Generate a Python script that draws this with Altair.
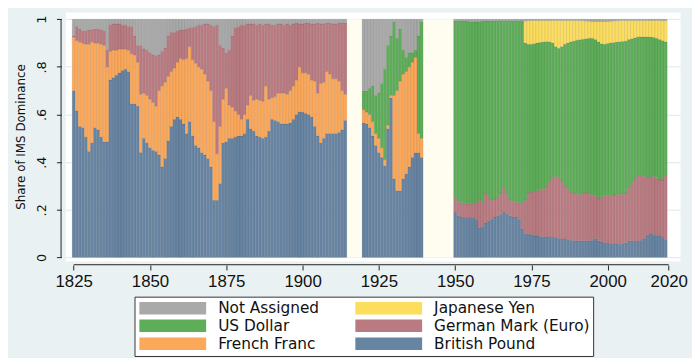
import altair as alt
import pandas as pd

# ---------------- data (cumulative top of each layer) -------------
YEARS_A = list(range(1825, 1915))
YEARS_B = list(range(1920, 1940))
YEARS_C = list(range(1950, 2020))
YEN_START = 1973

# 1825-1914
pound_a = [.70, .615, .55, .545, .505, .445, .48, .545, .535, .505,
           .485, .485, .745, .755, .765, .775, .785, .79, .78, .645,
           .645, .635, .44, .50, .48, .46, .45, .445, .43, .38,
           .415, .49, .55, .58, .59, .58, .56, .52, .57, .51,
           .47, .46, .44, .43, .415, .38, .24, .24, .31, .48,
           .485, .50, .50, .505, .51, .51, .52, .58, .54, .53,
           .51, .505, .50, .505, .53, .58, .575, .57, .56, .56,
           .56, .565, .58, .60, .61, .61, .605, .60, .59, .55,
           .51, .48, .50, .52, .52, .52, .52, .525, .535, .575]
franc_a = [.925, .91, .905, .90, .895, .895, .905, .90, .90, .895,
           .89, .80, .865, .87, .87, .875, .875, .875, .87, .855,
           .85, .82, .685, .69, .68, .665, .65, .635, .70, .72,
           .735, .76, .78, .795, .82, .835, .83, .835, .885, .83,
           .815, .80, .79, .77, .74, .70, .57, .435, .55, .665,
           .71, .64, .63, .615, .60, .58, .60, .64, .68, .66,
           .665, .66, .655, .72, .665, .67, .675, .69, .69, .69,
           .685, .70, .72, .745, .80, .775, .775, .77, .745, .74,
           .69, .73, .735, .78, .77, .75, .75, .74, .70, .685]
mark_a = [.93, .97, .96, .95, .95, .955, .955, .96, .96, .955,
          .95, .87, .975, .98, .98, .98, .975, .975, .97, .97,
          .93, .89, .89, .875, .87, .86, .85, .845, .85, .865,
          .88, .93, .945, .945, .95, .955, .955, .96, .965, .965,
          .97, .975, .975, .98, .98, .975, .97, .975, .89, .88,
          .86, .87, .93, .965, .97, .975, .975, .98, .98, .98,
          .975, .98, .975, .98, .98, .975, .975, .98, .98, .975,
          .98, .975, .98, .985, .98, .98, .985, .985, .98, .98,
          .985, .98, .98, .985, .985, .98, .98, .985, .985, .985]

# 1920-1939
pound_b = [.565, .56, .545, .51, .47, .44, .42, .385, .54, .67,
           .33, .28, .28, .33, .35, .38, .42, .44, .44, .42]
franc_b = [.62, .61, .60, .57, .52, .50, .46, .41, .555, .68,
           .68, .70, .74, .77, .78, .80, .82, .84, .52, .50]
dollar_b = [.70, .70, .71, .72, .68, .69, .73, .79, .89, .93,
            .99, .92, .96, .87, .84, .86, .86, .87, .93, .99]

# 1950-2019
pound_c = [.19, .175, .17, .165, .165, .165, .165, .16, .125, .13,
           .145, .155, .16, .17, .175, .18, .19, .185, .175, .17,
           .17, .16, .12, .10, .10, .095, .09, .09, .088, .087,
           .086, .085, .085, .082, .08, .078, .077, .075, .072, .07,
           .07, .07, .07, .07, .07, .072, .08, .07, .065, .062,
           .06, .058, .056, .056, .055, .057, .062, .07, .07, .068,
           .07, .072, .078, .09, .098, .097, .093, .09, .085, .075]
mark_c = [.255, .235, .23, .23, .225, .225, .225, .23, .24, .23,
          .27, .25, .24, .245, .25, .27, .295, .265, .24, .235,
          .235, .23, .23, .24, .27, .275, .278, .28, .285, .285,
          .30, .32, .335, .34, .335, .32, .30, .285, .275, .27,
          .265, .265, .27, .275, .265, .26, .26, .245, .255, .26,
          .26, .26, .262, .265, .265, .265, .27, .295, .31, .33,
          .345, .345, .34, .338, .338, .34, .335, .325, .325, .345]
dollar_c = [.994, .994, .994, .993, .992, .99, .988, .988, .99, .992,
            .993, .993, .994, .994, .994, .994, .994, .994, .994, .994,
            .994, .994, .994, .90, .895, .895, .898, .90, .903, .905,
            .906, .905, .90, .885, .878, .885, .895, .90, .905, .908,
            .912, .914, .916, .918, .92, .92, .915, .905, .897, .895,
            .898, .90, .902, .904, .905, .907, .908, .915, .918, .922,
            .925, .926, .926, .926, .925, .924, .92, .915, .91, .905]
yen_c = [.993, .994, .995, .995, .995, .995, .995,
         .995, .995, .995, .995, .995, .995, .995, .995, .995, .995,
         .995, .995, .994, .993, .992, .99, .99, .99, .99, .99,
         .99, .992, .993, .994, .995, .995, .995, .995, .995, .995,
         .995, .995, .995, .995, .995, .995, .995, .995, .994, .994]

STACK = ["British Pound", "French Franc", "German Mark (Euro)", "US Dollar", "Japanese Yen"]
# legend fills column by column
LEGEND_ORDER = ["Not Assigned", "US Dollar", "French Franc",
                "Japanese Yen", "German Mark (Euro)", "British Pound"]
COLORS = ["#A9A9A9", "#5DAD59", "#FBA85B", "#FCDD5E", "#B97B81", "#6784A2"]

GAP_START = [1914.5, 1939.5]
GAP_END = [1919.5, 1949.5]

X_TICKS = [1825, 1850, 1875, 1900, 1925, 1950, 1975, 2000, 2020]
Y_TICKS = [0, 0.2, 0.4, 0.6, 0.8, 1]

# ---------------- build table ----------------
rows = []


def add(years, tops):
    for i, yr in enumerate(years):
        base = 0.0
        for name in STACK:
            col = tops.get(name)
            if col is None:
                continue
            top = col[i]
            if top is None or top <= base:
                continue
            rows.append(dict(currency=name, xa=yr - 0.5, xb=yr + 0.5, ya=base, yb=top))
            base = top
        if base < 1:
            rows.append(dict(currency="Not Assigned", xa=yr - 0.5, xb=yr + 0.5, ya=base, yb=1.0))


add(YEARS_A, {"British Pound": pound_a, "French Franc": franc_a, "German Mark (Euro)": mark_a})
add(YEARS_B, {"British Pound": pound_b, "French Franc": franc_b, "US Dollar": dollar_b})
yen_full = [None] * (YEN_START - 1950) + yen_c
add(YEARS_C, {"British Pound": pound_c, "German Mark (Euro)": mark_c,
              "US Dollar": dollar_c, "Japanese Yen": yen_full})
df = pd.DataFrame(rows)

gap_df = pd.DataFrame({"xa": GAP_START, "xb": GAP_END, "ya": [0.0, 0.0], "yb": [1.0, 1.0]})

# ---------------- styling ----------------
FONT = "DejaVu Sans"
XFONT = "Liberation Sans"
BG = "#EAF1F3"
CREAM = "#FFFCF0"
GRID = "#DFE7EA"
INK = "#111111"

X_MIN, X_MAX = 1822.25, 2023.74
Y_MIN, Y_MAX = -0.0154, 1.0303
AXIS_LINE_X = 1820.85
AXIS_LINE_Y = -0.0307

xs = alt.Scale(domain=[X_MIN, X_MAX], nice=False, zero=False)
ys = alt.Scale(domain=[Y_MIN, Y_MAX], nice=False, zero=False)

x_axis = alt.Axis(values=X_TICKS, format="d", title=None, offset=4, domain=False, grid=False,
                  tickSize=5, tickColor="#222222", labelFont=XFONT, labelFontSize=17,
                  labelColor=INK, labelPadding=4, labelFlush=False, labelOverlap=False)
y_axis = alt.Axis(values=Y_TICKS,
                  labelExpr="datum.value == 0 ? '0' : datum.value == 1 ? '1' : '.' + round(datum.value * 10)",
                  title="Share of IMS Dominance", offset=4, domain=False, grid=True,
                  gridColor=GRID, gridWidth=1, tickSize=5, tickColor="#222222",
                  labelAngle=270, labelAlign="center", labelBaseline="bottom", labelPadding=8,
                  labelFont=FONT, labelFontSize=13, labelColor=INK,
                  titleFont=FONT, titleFontSize=12, titleFontWeight="normal", titleColor=INK,
                  titlePadding=8)

legend = alt.Legend(title=None, orient="none", legendX=70, legendY=288, columns=2,
                    symbolType="M-1,-1H9.65V1H-1Z", symbolSize=161, symbolStrokeWidth=0,
                    symbolOpacity=1, labelOffset=65.6, labelFont=FONT, labelFontSize=15.5,
                    labelColor=INK, labelLimit=400, columnPadding=34.5, rowPadding=1.2,
                    padding=3.5, strokeColor="#333333", fillColor="white")

gaps = alt.Chart(gap_df).mark_rect(color=CREAM).encode(
    x=alt.X("xa:Q", scale=xs, axis=x_axis), x2="xb:Q",
    y=alt.Y("ya:Q", scale=ys, axis=y_axis), y2="yb:Q")

bars = alt.Chart(df).mark_rect(stroke="rgba(0,0,0,0.13)", strokeWidth=0.6).encode(
    x=alt.X("xa:Q", scale=xs, axis=x_axis), x2="xb:Q",
    y=alt.Y("ya:Q", scale=ys, axis=y_axis), y2="yb:Q",
    color=alt.Color("currency:N", scale=alt.Scale(domain=LEGEND_ORDER, range=COLORS), legend=legend))

y_line = alt.Chart(pd.DataFrame({"xa": [AXIS_LINE_X], "ya": [0.0], "yb": [1.0]})).mark_rule(
    color="#222222", strokeWidth=1).encode(x=alt.X("xa:Q", scale=xs), y=alt.Y("ya:Q", scale=ys), y2="yb:Q")
x_line = alt.Chart(pd.DataFrame({"xa": [1825], "xb": [2020], "ya": [AXIS_LINE_Y]})).mark_rule(
    color="#222222", strokeWidth=1).encode(x=alt.X("xa:Q", scale=xs), x2="xb:Q", y=alt.Y("ya:Q", scale=ys))

chart = alt.layer(gaps, bars, y_line, x_line).properties(
    width=622, height=252,
    padding={"left": 58, "top": 2, "right": 12, "bottom": 96},
    autosize=alt.AutoSizeParams(type="none"),
).configure(background=BG).configure_view(fill="white", stroke="transparent")

chart.save("out.html", embed_options={"renderer": "svg", "actions": False})
